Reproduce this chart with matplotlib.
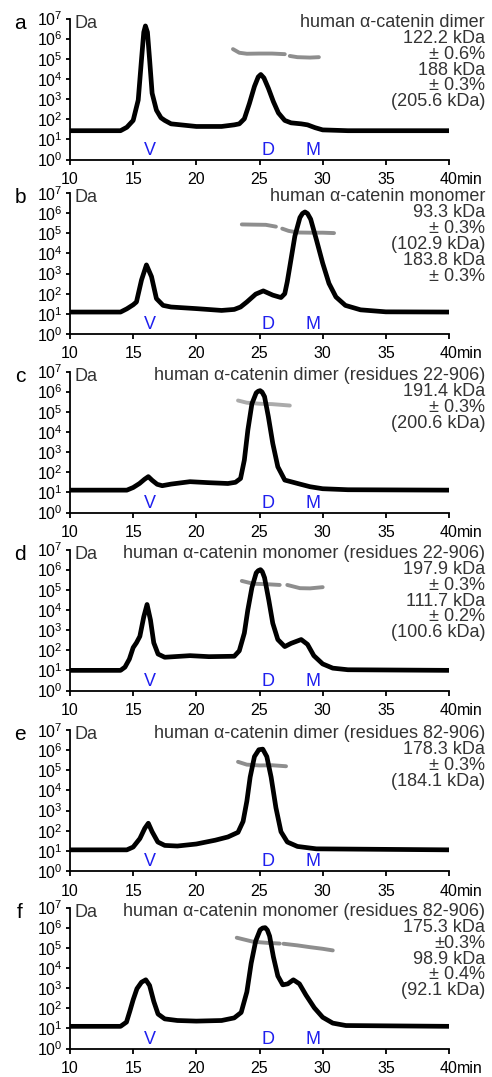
import numpy as np
import matplotlib.pyplot as plt

plt.rcParams["font.family"] = ["Liberation Sans", "DejaVu Sans"]
plt.rcParams["mathtext.fontset"] = "custom"
plt.rcParams["mathtext.rm"] = "Liberation Sans"
plt.rcParams["mathtext.it"] = "Liberation Sans"

# elution time (min) and log10 of the signal
a_t = [10, 14, 14.5, 15, 15.4, 15.66, 15.84, 15.97, 16.13, 16.3, 16.5, 16.84, 17.2, 17.5, 18, 20, 22, 23,
       23.4, 23.8, 24.2, 24.6, 24.9, 25.1, 25.35, 25.7, 26.1, 26.5, 27, 27.5, 28.3, 28.8, 29.4, 30, 32, 40]
a_lg = [1.43, 1.43, 1.6, 1.94, 2.95, 4.97, 6.32, 6.63, 6.32, 4.97, 3.29, 2.45, 2.07, 1.94, 1.77, 1.64, 1.64, 1.72,
        1.77, 2.02, 2.78, 3.63, 4.1, 4.22, 4.05, 3.54, 2.87, 2.31, 1.94, 1.82, 1.77, 1.72, 1.58, 1.47, 1.43, 1.43]

b_t = [10, 14, 14.5, 15, 15.26, 15.66, 16.05, 16.45, 16.84, 17.37, 18, 20, 22, 23, 23.5, 24, 24.7, 25.3, 26.05,
       26.7, 27.0, 27.2, 27.4, 27.8, 28.2, 28.4, 28.6, 28.8, 29.05, 29.5, 30, 30.5, 31.05, 31.8, 33, 35, 40]
b_lg = [1.09, 1.09, 1.25, 1.45, 1.59, 2.68, 3.43, 2.85, 1.76, 1.42, 1.34, 1.26, 1.17, 1.22, 1.34, 1.59, 1.98, 2.14, 1.93,
        1.81, 2.0, 2.6, 3.35, 4.86, 5.78, 5.98, 6.06, 5.98, 5.7, 4.69, 3.52, 2.51, 1.84, 1.42, 1.2, 1.1, 1.09]

c_t = [10, 14.5, 15, 15.5, 15.9, 16.2, 16.5, 16.9, 17.3, 18, 19.5, 21, 22.5, 23.1, 23.5, 23.8, 24.08, 24.4, 24.74,
       24.9, 25.05, 25.2, 25.4, 25.7, 26.05, 26.45, 27, 28.2, 29, 30, 32, 40]
c_lg = [1.11, 1.11, 1.24, 1.44, 1.65, 1.78, 1.6, 1.4, 1.33, 1.41, 1.53, 1.48, 1.44, 1.5, 1.69, 2.6, 4.1, 5.4, 5.94,
        6.02, 6.05, 5.98, 5.75, 4.76, 3.43, 2.27, 1.61, 1.41, 1.28, 1.18, 1.13, 1.11]

d_t = [10, 14, 14.35, 14.7, 15, 15.26, 15.53, 15.84, 16.1, 16.37, 16.63, 16.97, 17.5, 19.5, 21, 23, 23.4, 23.8, 24.07,
       24.4, 24.74, 24.9, 25.08, 25.22, 25.4, 25.74, 26.05, 26.45, 27, 27.5, 28.3, 28.8, 29.3, 30, 30.8, 32, 40]
d_lg = [1.0, 1.0, 1.16, 1.56, 2.13, 2.37, 2.69, 3.66, 4.27, 3.5, 2.37, 1.81, 1.65, 1.73, 1.68, 1.7, 1.97, 2.85, 3.98,
        5.11, 5.84, 5.95, 6.0, 5.9, 5.6, 4.47, 3.34, 2.53, 2.18, 2.34, 2.53, 2.29, 1.73, 1.32, 1.11, 1.03, 1.0]

e_t = [10, 14.5, 15, 15.53, 15.92, 16.2, 16.5, 16.95, 17.5, 18.5, 20, 21.5, 22.5, 23.3, 23.7, 24, 24.26, 24.6, 24.95,
       25.26, 25.58, 25.92, 26.3, 26.7, 27.2, 28, 29.5, 40]
e_lg = [1.05, 1.05, 1.19, 1.61, 2.12, 2.37, 1.95, 1.44, 1.27, 1.24, 1.34, 1.53, 1.69, 1.92, 2.46, 3.47, 4.66, 5.68, 6.02,
        6.05, 5.68, 4.66, 3.14, 1.95, 1.44, 1.22, 1.1, 1.05]

f_t = [10, 14, 14.47, 14.74, 15, 15.3, 15.66, 16, 16.3, 16.63, 16.97, 17.5, 18.5, 20, 22, 23, 23.55, 24, 24.34, 24.7,
       25.05, 25.25, 25.45, 25.62, 25.8, 26.1, 26.45, 26.84, 27.24, 27.68, 28.16, 28.68, 29.34, 30, 30.8, 31.84, 40]
f_lg = [1.1, 1.1, 1.31, 1.86, 2.42, 2.97, 3.29, 3.41, 3.13, 2.34, 1.71, 1.47, 1.39, 1.36, 1.39, 1.52, 1.79, 2.81, 4.23,
        5.34, 5.89, 5.98, 6.0, 5.88, 5.58, 4.55, 3.6, 3.16, 3.21, 3.41, 3.21, 2.65, 2.02, 1.55, 1.26, 1.14, 1.1]

# molar mass traces (log10 Da), one list per peak segment
a_mass = [([22.9, 23.4, 24, 25, 26, 27.0], [5.48, 5.30, 5.25, 5.26, 5.26, 5.23]),
          ([27.4, 28, 29, 29.7], [5.14, 5.08, 5.06, 5.08])]
b_mass = [([23.6, 24.5, 25.5, 26.3], [5.44, 5.43, 5.42, 5.33]),
          ([26.8, 27.3, 28, 29, 30, 30.9], [5.23, 5.12, 5.04, 5.03, 5.03, 5.01])]
c_mass = [([23.3, 24, 25, 26, 27.4], [5.56, 5.45, 5.40, 5.38, 5.31])]
d_mass = [([23.6, 24.5, 25.5, 26.6], [5.44, 5.30, 5.28, 5.24]),
          ([27.2, 28.2, 29, 30], [5.24, 5.08, 5.07, 5.13])]
e_mass = [([23.3, 24, 25, 26, 27.1], [5.42, 5.28, 5.24, 5.25, 5.20])]
f_mass = [([23.2, 24.5, 25.5, 26.6], [5.5, 5.3, 5.25, 5.21]),
          ([26.9, 28, 29, 30, 30.8], [5.2, 5.12, 5.03, 4.95, 4.87])]

titles = [
    "human \u03b1-catenin dimer\n122.2 kDa\n\u00b1 0.6%\n188 kDa\n\u00b1 0.3%\n(205.6 kDa)",
    "human \u03b1-catenin monomer\n93.3 kDa\n\u00b1 0.3%\n(102.9 kDa)\n183.8 kDa\n\u00b1 0.3%",
    "human \u03b1-catenin dimer (residues 22-906)\n191.4 kDa\n\u00b1 0.3%\n(200.6 kDa)",
    "human \u03b1-catenin monomer (residues 22-906)\n197.9 kDa\n\u00b1 0.3%\n111.7 kDa\n\u00b1 0.2%\n(100.6 kDa)",
    "human \u03b1-catenin dimer (residues 82-906)\n178.3 kDa\n\u00b1 0.3%\n(184.1 kDa)",
    "human \u03b1-catenin monomer (residues 82-906)\n175.3 kDa\n\u00b10.3%\n98.9 kDa\n\u00b1 0.4%\n(92.1 kDa)",
]
letters = ["a", "b", "c", "d", "e", "f"]
markers = ["V", "D", "M"]
marker_t = [16.3, 25.7, 29.2]
xticks = [10, 15, 20, 25, 30, 35, 40]
ydecades = list(range(8))

traces = [(a_t, a_lg), (b_t, b_lg), (c_t, c_lg), (d_t, d_lg), (e_t, e_lg), (f_t, f_lg)]
masses = [a_mass, b_mass, c_mass, d_mass, e_mass, f_mass]
mass_colors = ["#8e8e8e", "#8e8e8e", "#ababab", "#8e8e8e", "#8e8e8e", "#8e8e8e"]

W, H = 492, 1077
fig = plt.figure(figsize=(W / 100, H / 100), dpi=100)
centers = [89, 263.5, 442, 620, 800.5, 978]  # panel centres in px
ax_h = 141

for i, ((t, lg), mass) in enumerate(zip(traces, masses)):
    top = centers[i] - ax_h / 2
    ax = fig.add_axes([70 / W, 1 - (top + ax_h) / H, 379 / W, ax_h / H])
    ax.set_yscale("log")
    ax.set_xlim(10, 40)
    ax.set_ylim(1, 1e7)

    ax.plot(t, 10 ** np.array(lg), color="black", lw=3.4, solid_joinstyle="round",
            solid_capstyle="butt", clip_on=False, zorder=3)
    for mt, mlg in mass:
        ax.plot(mt, 10 ** np.array(mlg), color=mass_colors[i], lw=2.8,
                solid_capstyle="round", zorder=2)

    for m, x in zip(markers, marker_t):
        ax.text(x, 10 ** 0.45, m, color="#1f1fee", fontsize=13, ha="center", va="center")

    ax.spines[["top", "right"]].set_visible(False)
    for s in ["left", "bottom"]:
        ax.spines[s].set_linewidth(1.3)
    ax.set_xticks(xticks)
    ax.set_xticklabels([str(x) for x in xticks])
    ax.set_yticks([10.0 ** k for k in ydecades])
    ax.set_yticklabels([r"$10^{%d}$" % k for k in ydecades])
    ax.minorticks_off()
    ax.tick_params(axis="x", length=3.5, width=1.3, pad=5.5, labelsize=11.5)
    ax.tick_params(axis="y", length=3, width=1.3, pad=2, labelsize=11.5)

    ax.annotate("min", xy=(1, 0), xycoords="axes fraction", xytext=(6, -9),
                textcoords="offset points", ha="left", va="top", fontsize=11.5)
    ax.annotate("Da", xy=(0, 1), xycoords="axes fraction", xytext=(3, -3.5),
                textcoords="offset points", ha="left", va="center", fontsize=13, color="#333333")
    ax.annotate(letters[i], xy=(0, 1), xycoords="axes fraction", xytext=(-36, -3.5),
                textcoords="offset points", ha="center", va="center", fontsize=15)
    ax.annotate(titles[i], xy=(1, 1), xycoords="axes fraction", xytext=(26, 3.5),
                textcoords="offset points", ha="right", va="top", fontsize=13,
                color="#333333", linespacing=0.92)

fig.savefig("out.png", dpi=100)
